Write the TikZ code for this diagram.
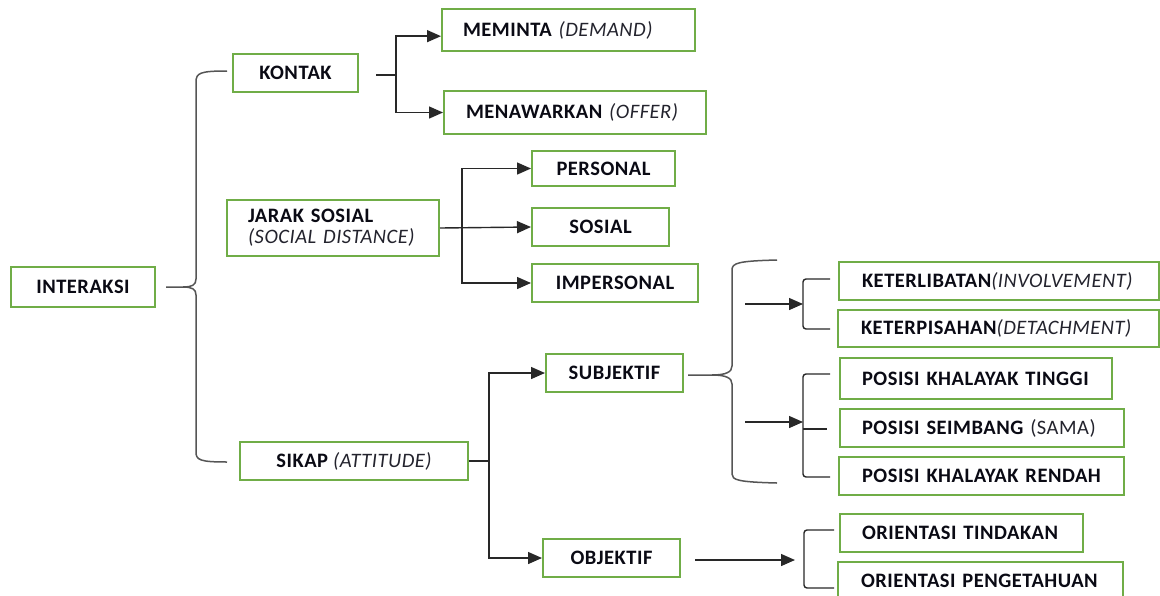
\documentclass[tikz,border=0pt]{standalone}
\usepackage{fontspec}
\setmainfont{Carlito}[LetterSpace=2.5]
\usetikzlibrary{arrows.meta,calc}
\definecolor{boxgreen}{RGB}{112,173,71}
\definecolor{txt}{RGB}{10,10,20}
\definecolor{itgray}{RGB}{35,35,45}
\definecolor{linegray}{RGB}{40,40,40}
\definecolor{bracegray}{RGB}{85,85,85}
\newcommand\itl[1]{{\mdseries\itshape\color{itgray}#1}}
\newcommand\rgl[1]{{\mdseries\color{itgray}#1}}
\tikzset{
  bx/.style={draw=boxgreen, line width=2pt, inner sep=0pt, text=txt,
    font=\bfseries\fontsize{20.5}{21}\selectfont},
  lbx/.style={bx, align=left},
  ln/.style={draw=linegray, line width=1.4pt},
  brc/.style={draw=bracegray, line width=1.5pt},
  arr/.style={ln, -{Triangle[length=14pt,width=12pt]}}
}
\begin{document}
\begin{tikzpicture}[x=1pt,y=-1pt]
\fill[white] (0,0) rectangle (1160,595);
\useasboundingbox (0,0) rectangle (1160,595);
\clip (0,0) rectangle (1160,595);

% boxes
\node[bx, minimum width=144pt, minimum height=40pt] (inter) at (83,287) {INTERAKSI};
\node[bx, minimum width=125pt, minimum height=38pt] (kontak) at (295.5,73) {KONTAK};
\node[lbx, inner xsep=21pt, text width=170pt, minimum height=56pt] (jarak) at (333,228) {JARAK SOSIAL\\\itl{(SOCIAL DISTANCE)}};
\node[bx, minimum width=228pt, minimum height=38pt] (sikap) at (354,461) {SIKAP \itl{(ATTITUDE)}};
\node[lbx, inner xsep=21pt, text width=211pt, minimum height=42pt] (meminta) at (568.5,30) {MEMINTA \itl{(DEMAND)}};
\node[lbx, inner xsep=22pt, text width=218pt, minimum height=43pt] (menawar) at (575,112.5) {MENAWARKAN \itl{(OFFER)}};
\node[bx, minimum width=143pt, minimum height=35pt] (personal) at (603.5,168.5) {PERSONAL};
\node[bx, minimum width=137pt, minimum height=38pt] (sosial) at (600.5,227) {SOSIAL};
\node[bx, minimum width=166pt, minimum height=38pt] (imper) at (615,283) {IMPERSONAL};
\node[bx, minimum width=137pt, minimum height=38pt] (subj) at (614.5,373) {SUBJEKTIF};
\node[bx, minimum width=137pt, minimum height=38pt] (obj) at (611.5,558) {OBJEKTIF};
\node[lbx, inner xsep=23pt, text width=274pt, minimum height=38pt] (ket1) at (999,281) {KETERLIBATAN\itl{(INVOLVEMENT)}};
\node[lbx, inner xsep=23pt, text width=275pt, minimum height=37pt] (ket2) at (998.5,328.5) {KETERPISAHAN\itl{(DETACHMENT)}};
\node[lbx, inner xsep=22pt, text width=228pt, minimum height=41pt] (pos1) at (976,378.5) {POSISI KHALAYAK TINGGI};
\node[lbx, inner xsep=22pt, text width=240pt, minimum height=38pt] (pos2) at (982,428) {POSISI SEIMBANG \rgl{(SAMA)}};
\node[lbx, inner xsep=23pt, text width=239pt, minimum height=38pt] (pos3) at (981.5,476) {POSISI KHALAYAK RENDAH};
\node[lbx, inner xsep=22pt, text width=199pt, minimum height=38pt] (or1) at (961.5,533) {ORIENTASI TINDAKAN};
\node[lbx, inner xsep=23pt, text width=239pt, minimum height=38pt] (or2) at (980.5,581) {ORIENTASI PENGETAHUAN};

% big brace from INTERAKSI
\coordinate (b1tip) at ($(inter.east)+(10,0)$);
\coordinate (b1mid) at (183,287);
\coordinate (b1top) at ($(kontak.west)+(-5,-2)$);
\coordinate (b1bot) at ($(sikap.west)+(-12,1)$);
\draw[brc] (b1top) .. controls (200,71) and (196,73) .. (196,82) -- (196,279)
  .. controls (196,285) and (192,287) .. (b1mid) -- (b1tip);
\draw[brc] (b1bot) .. controls (200,462) and (196,460) .. (196,452) -- (196,295)
  .. controls (196,289) and (192,287) .. (b1mid);

% KONTAK
\coordinate (ks) at ($(kontak.east)+(17,2)$);
\coordinate (kj) at (396,75);
\coordinate (memin) at ($(meminta.north west)!0.64!(meminta.south west)$);
\draw[ln] (ks) -- (kj);
\draw[arr] (kj) |- (memin);
\draw[arr] (kj) |- (menawar.west);

% JARAK SOSIAL
\coordinate (jj) at (462,227);
\draw[arr] (jj) |- (personal.west);
\draw[arr] (jarak.east) -- (sosial.west);
\draw[arr] (jj) |- (imper.west);

% SIKAP
\coordinate (sj) at (489,461);
\draw[ln] (sikap.east) -- (sj);
\draw[arr] (sj) |- (subj.west);
\draw[arr] (sj) |- (obj.west);

% SUBJEKTIF brace
\coordinate (b2tip) at ($(subj.east)+(4,2)$);
\coordinate (b2mid) at (712,375);
\draw[brc] (b2tip) -- (b2mid) .. controls (726,375) and (732,372) .. (732,366) -- (732,270)
  .. controls (732,263) and (738,261) .. (777,260);
\draw[brc] (b2mid) .. controls (726,375) and (732,378) .. (732,384) -- (732,474)
  .. controls (732,480) and (738,482) .. (777,483);

% bracket 1
\coordinate (a1) at (745,304);
\coordinate (k1) at (803,304);
\draw[arr] (a1) -- (k1);
\draw[ln, rounded corners=3pt] (830,279) -- (803,279) -- (803,329) -- (830,329);

% bracket 2
\coordinate (a2) at (745,422);
\coordinate (k2) at (803,422);
\draw[arr] (a2) -- (k2);
\draw[ln, rounded corners=3pt] (830,374) -- (803,374) -- (803,477) -- (830,477);
\draw[ln] (803,429) -- (827,429);

% OBJEKTIF
\coordinate (os) at ($(obj.east)+(14,2)$);
\coordinate (k3) at (795,560);
\draw[arr] (os) -- (k3);
\draw[ln, rounded corners=3pt] (834,530) -- (804,530) -- (804,588) -- (834,588);
\end{tikzpicture}
\end{document}
